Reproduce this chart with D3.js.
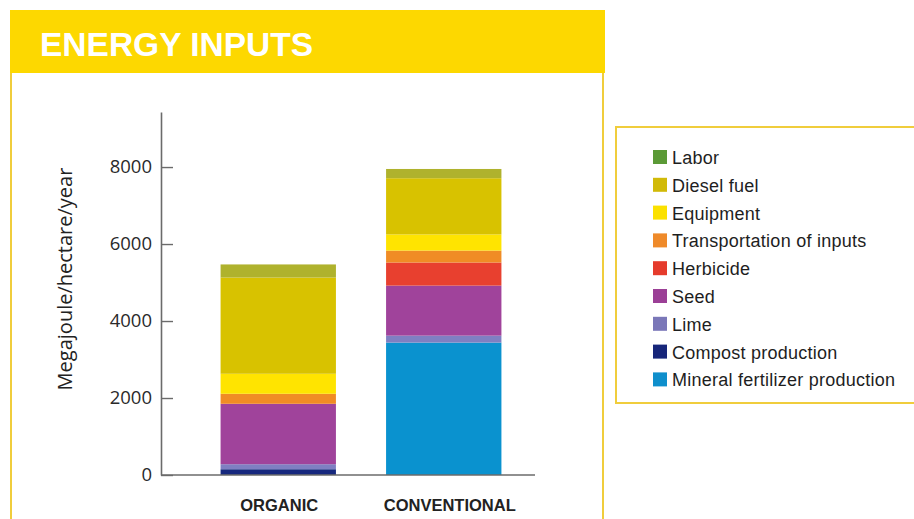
<!DOCTYPE html>
<html>
<head>
<meta charset="utf-8">
<script src="https://cdn.jsdelivr.net/npm/d3@7"></script>
<style>
  html, body { margin: 0; padding: 0; background: #fff; }
  svg { display: block; }
</style>
</head>
<body>
<svg id="chart" width="914" height="519"></svg>
<script>
// Farming systems on the x axis
const categories = ["ORGANIC", "CONVENTIONAL"];

// Energy input sources, stacked bottom to top
const sources = [
  "Mineral fertilizer production",
  "Compost production",
  "Lime",
  "Seed",
  "Herbicide",
  "Transportation of inputs",
  "Equipment",
  "Diesel fuel",
  "Labor"
];

// Megajoule/hectare/year per source, in the order of `sources`
const organicValues      = [0,    150, 130, 1570, 0,   260, 520, 2500, 340];
const conventionalValues = [3440, 0,   180, 1300, 600, 310, 420, 1460, 240];

const yTicks = [0, 2000, 4000, 6000, 8000];

const barColors = ["#0a92cf", "#16287e", "#7f7fc2", "#a0439b", "#e8402f",
                   "#f08c25", "#ffe400", "#d8c200", "#afb22d"];
const swatchColors = ["#0f8fcc", "#17267a", "#7a77b8", "#9b3f96", "#e53b2c",
                      "#ef8a2a", "#fbe100", "#d1ba08", "#5b9a36"];

const rows = categories.map((c, i) => {
  const vals = i === 0 ? organicValues : conventionalValues;
  const r = { category: c };
  sources.forEach((s, j) => { r[s] = vals[j]; });
  return r;
});

const svg = d3.select("#chart");
const gold = "#f0cd3c";

// Panel frame and title banner
svg.append("line").attr("x1", 11).attr("x2", 11).attr("y1", 70).attr("y2", 519)
  .attr("stroke", gold).attr("stroke-width", 2);
svg.append("line").attr("x1", 603).attr("x2", 603).attr("y1", 70).attr("y2", 519)
  .attr("stroke", gold).attr("stroke-width", 2);
svg.append("rect").attr("x", 10).attr("y", 10).attr("width", 595).attr("height", 63)
  .attr("fill", "#fdd800");
svg.append("text").attr("x", 40).attr("y", 56)
  .attr("font-family", "Liberation Sans, Arial, sans-serif")
  .attr("font-weight", "bold").attr("font-size", 33.5)
  .attr("fill", "#fff").text("ENERGY INPUTS");

// Scales
const y = d3.scaleLinear().domain([0, 9430]).range([475, 112]);
const x = d3.scaleBand().domain(categories).range([161, 561])
  .paddingInner(0.303).paddingOuter(0.36);
const color = d3.scaleOrdinal().domain(sources).range(barColors);

// Stacked bars
const stacked = d3.stack().keys(sources)(rows);
svg.append("g").selectAll("g").data(stacked).join("g")
  .attr("fill", d => color(d.key))
  .selectAll("rect").data(d => d).join("rect")
  .attr("x", d => x(d.data.category))
  .attr("width", x.bandwidth())
  .attr("y", d => y(d[1]))
  .attr("height", d => y(d[0]) - y(d[1]));

// Y axis: ticks point inward, labels on the left
const yAxis = svg.append("g").attr("transform", "translate(161,0)")
  .call(d3.axisLeft(y).tickValues(yTicks).tickFormat(d3.format("d"))
    .tickSizeInner(-12).tickSizeOuter(0).tickPadding(9));
yAxis.select(".domain").attr("stroke", "#6b6b6b").attr("stroke-width", 1.6);
yAxis.selectAll(".tick line").attr("stroke", "#6b6b6b").attr("stroke-width", 1.4);
yAxis.selectAll(".tick text")
  .attr("font-family", "Open Sans, sans-serif").attr("font-size", 18.5)
  .attr("fill", "#2a2a2a");

// Baseline
svg.append("line").attr("x1", 161).attr("x2", 535)
  .attr("y1", y(0)).attr("y2", y(0))
  .attr("stroke", "#6b6b6b").attr("stroke-width", 1.6);

// Category labels
svg.append("g").selectAll("text").data(categories).join("text")
  .attr("x", d => x(d) + x.bandwidth() / 2 + (d === "CONVENTIONAL" ? 6 : 1))
  .attr("y", 511)
  .attr("text-anchor", "middle")
  .attr("font-family", "Liberation Sans, Arial, sans-serif")
  .attr("font-weight", "bold").attr("font-size", 16.5)
  .attr("fill", "#222")
  .text(d => d);

// Y axis title
svg.append("text")
  .attr("transform", "translate(72,279) rotate(-90)")
  .attr("text-anchor", "middle")
  .attr("font-family", "Open Sans, sans-serif").attr("font-size", 20)
  .attr("fill", "#222")
  .text("Megajoule/hectare/year");

// Legend
svg.append("rect").attr("x", 616).attr("y", 127).attr("width", 310).attr("height", 276)
  .attr("fill", "#fff").attr("stroke", gold).attr("stroke-width", 2);
const legendItems = sources.map((s, i) => ({ name: s, swatch: swatchColors[i] })).reverse();
const lg = svg.append("g").selectAll("g").data(legendItems).join("g")
  .attr("transform", (d, i) => `translate(653,${157 + i * 27.8})`);
lg.append("rect").attr("x", 0).attr("y", -7).attr("width", 14).attr("height", 14)
  .attr("fill", d => d.swatch);
lg.append("text").attr("x", 19).attr("y", 7)
  .attr("font-family", "Liberation Sans, Arial, sans-serif").attr("font-size", 18)
  .attr("letter-spacing", 0.25)
  .attr("fill", "#1e1e1e")
  .text(d => d.name);
</script>
</body>
</html>
